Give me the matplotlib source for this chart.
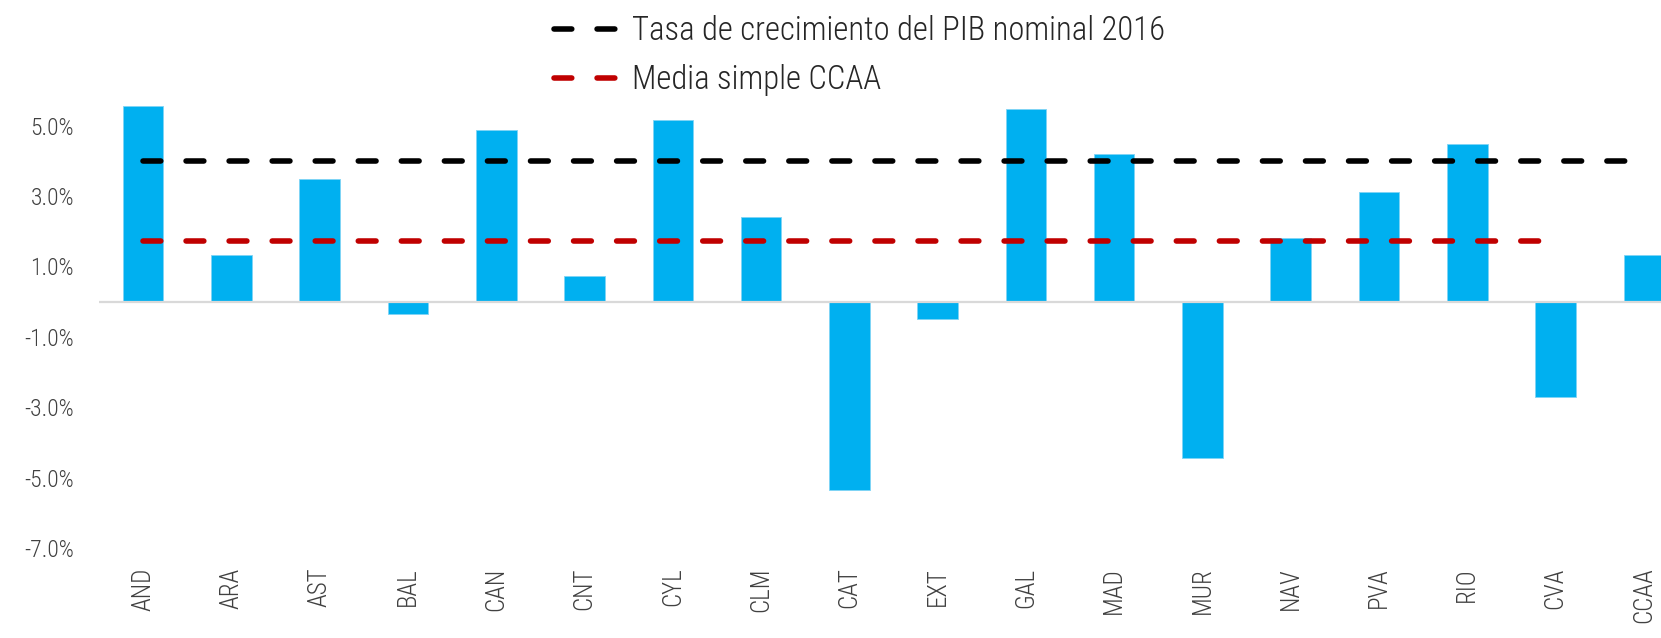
import matplotlib
matplotlib.use("Agg")
import matplotlib.pyplot as plt
from matplotlib.lines import Line2D
from matplotlib import font_manager

# crecimiento por CCAA (%)
regiones = ['AND', 'ARA', 'AST', 'BAL', 'CAN', 'CNT', 'CYL', 'CLM', 'CAT',
            'EXT', 'GAL', 'MAD', 'MUR', 'NAV', 'PVA', 'RIO', 'CVA', 'CCAA']
valores = [5.55, 1.32, 3.48, -0.34, 4.87, 0.72, 5.17, 2.41, -5.35,
           -0.48, 5.48, 4.20, -4.45, 1.82, 3.11, 4.47, -2.70, 1.32]
pib_nominal_2016 = 4.01
media_simple = 1.72
yticks = [-7, -5, -3, -1, 1, 3, 5]

installed = {f.name for f in font_manager.fontManager.ttflist}
FONT = [f for f in ['Liberation Sans Narrow', 'Roboto Condensed', 'DejaVu Sans Condensed']
        if f in installed] + ['DejaVu Sans']
plt.rcParams['font.family'] = FONT
plt.rcParams['font.stretch'] = 'condensed'
plt.rcParams['font.weight'] = 'light'

fig = plt.figure(figsize=(16.61, 6.38), dpi=100)
# plot area runs past the right edge, like the cropped original
ax = fig.add_axes([99 / 1661, 90 / 638, 1589 / 1661, 457.5 / 638])

x = list(range(len(regiones)))
ax.bar(x, valores, width=0.46, color='#00B0F0', edgecolor='#7fd4f5', linewidth=0.6, zorder=2)
ax.axhline(0, color='#d9d9d9', lw=1.6, zorder=3)

dash = (0, (3.2, 4.55))
ax.plot([x[0], x[-1]], [pib_nominal_2016] * 2, color='black', lw=4.0,
        linestyle=dash, dash_capstyle='round', zorder=4)
ax.plot([x[0], x[-2]], [media_simple] * 2, color='#C00000', lw=4.0,
        linestyle=dash, dash_capstyle='round', zorder=4)

ax.set_xlim(-0.5, len(regiones) - 0.5)
ax.set_ylim(-7, 6)
ax.set_yticks(yticks)
ax.set_yticklabels([f'{v:.1f}%' for v in yticks])
ax.set_xticks(x)
ax.set_xticklabels(regiones, rotation=90, va='top', ha='center')
ax.tick_params(axis='y', length=0, pad=18, labelsize=17, labelcolor='#404040')
ax.tick_params(axis='x', length=0, pad=14, labelsize=18, labelcolor='#404040')
for s in ax.spines.values():
    s.set_visible(False)

handles = [
    Line2D([], [], color='black', lw=4.0, linestyle=dash, dash_capstyle='round'),
    Line2D([], [], color='#C00000', lw=4.0, linestyle=dash, dash_capstyle='round'),
]
fig.legend(handles, ['Tasa de crecimiento del PIB nominal 2016', 'Media simple CCAA'],
           loc='upper left', bbox_to_anchor=(554 / 1661, 1 - 15 / 638),
           frameon=False, fontsize=23.5, handlelength=2.0, handletextpad=0.4,
           labelspacing=0.52, borderpad=0, borderaxespad=0, labelcolor='#262626')

fig.savefig('out.png', dpi=100)
